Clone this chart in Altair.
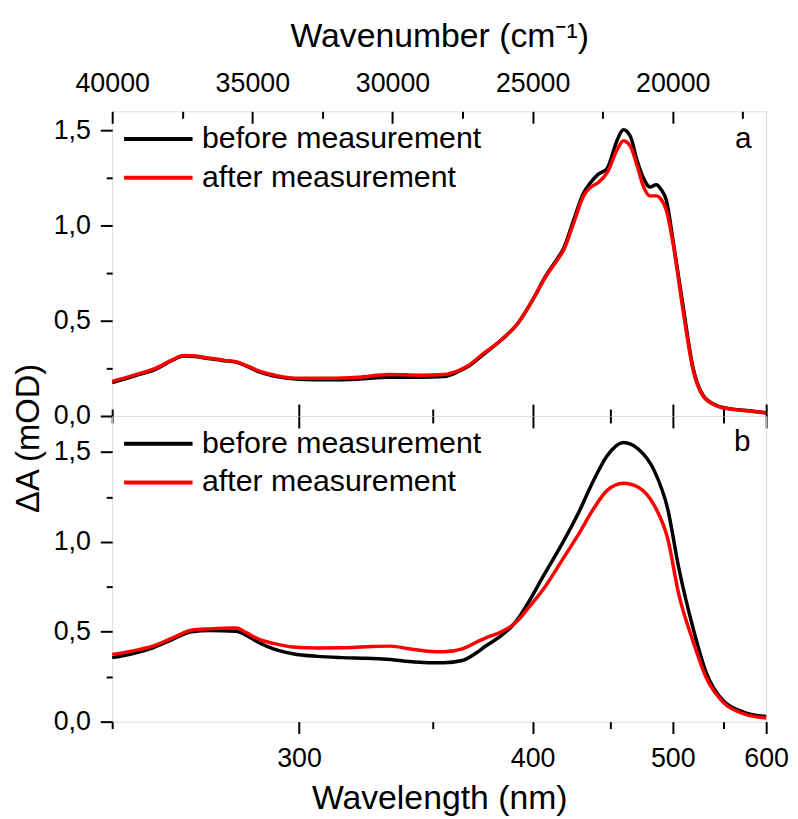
import altair as alt
import pandas as pd

# ---------------- data ----------------
series_names = ["before measurement", "after measurement"]
series_colors = ["#000000", "#ff0000"]

wl_a = [250, 255, 260, 264, 267, 270, 274, 278, 281, 284, 288, 293, 300, 310, 320, 332,
        345, 355, 362, 366, 374, 383, 392, 401, 407, 414.5, 418.5, 424.7, 431.4, 435.9,
        441.4, 447.6, 455, 459.5, 464.8, 470.2, 475, 480.4, 485.8, 489.7, 494.5, 500.3,
        509.3, 518.7, 528.4, 542, 560, 579, 600]
a_before = [0.176, 0.210, 0.245, 0.290, 0.315, 0.312, 0.300, 0.290, 0.283, 0.262, 0.230, 0.207,
            0.193, 0.190, 0.193, 0.203, 0.203, 0.207, 0.235, 0.258, 0.325, 0.400, 0.490, 0.625,
            0.727, 0.825, 0.880, 1.025, 1.172, 1.224, 1.270, 1.300, 1.451, 1.503, 1.469, 1.339,
            1.252, 1.203, 1.214, 1.190, 1.130, 0.920, 0.580, 0.255, 0.110, 0.056, 0.036, 0.027,
            0.017]
a_after = [0.182, 0.215, 0.250, 0.293, 0.318, 0.315, 0.303, 0.292, 0.285, 0.265, 0.234, 0.212,
           0.198, 0.198, 0.203, 0.218, 0.214, 0.218, 0.240, 0.262, 0.330, 0.400, 0.490, 0.625,
           0.722, 0.818, 0.870, 1.009, 1.156, 1.200, 1.226, 1.278, 1.400, 1.446, 1.417, 1.313,
           1.208, 1.156, 1.156, 1.139, 1.078, 0.905, 0.557, 0.245, 0.106, 0.054, 0.034, 0.026,
           0.016]

wl_b = [250, 255, 259.4, 264, 269, 273.8, 281, 284, 287.7, 292, 298, 306, 314.4, 323, 332.6,
        340, 348, 355, 363.5, 370, 374.2, 383, 388, 392, 396.8, 406.6, 417, 428.3, 438.1, 447.6,
        459.5, 471, 484, 495.5, 505.5, 518.7, 531.7, 549.5, 573, 600]
b_before = [0.356, 0.380, 0.411, 0.455, 0.500, 0.507, 0.503, 0.480, 0.439, 0.405, 0.378, 0.363,
            0.356, 0.352, 0.346, 0.334, 0.328, 0.328, 0.340, 0.380, 0.415, 0.480, 0.525, 0.575,
            0.650, 0.816, 0.980, 1.166, 1.341, 1.479, 1.553, 1.516, 1.396, 1.184, 0.853, 0.522,
            0.273, 0.116, 0.052, 0.028]
b_after = [0.374, 0.395, 0.420, 0.463, 0.508, 0.516, 0.521, 0.495, 0.457, 0.435, 0.415, 0.410,
           0.411, 0.416, 0.420, 0.405, 0.392, 0.389, 0.405, 0.440, 0.462, 0.500, 0.530, 0.565,
           0.623, 0.742, 0.890, 1.046, 1.184, 1.286, 1.326, 1.304, 1.203, 1.019, 0.706, 0.448,
           0.245, 0.107, 0.043, 0.020]

top_ticks_wn = [40000, 35000, 30000, 25000, 20000]
top_minor_wn = [37500, 32500, 27500, 22500, 17500]
bottom_ticks_nm = [300, 400, 500, 600]
bottom_minor_nm = [250, 350, 450, 550]
y_ticks = [0.0, 0.5, 1.0, 1.5]
y_minor = [0.25, 0.75, 1.25]
x_domain_nm = [250, 600]
ymax_a = 1.6
ymax_b = 1.7

# ---------------- helpers ----------------
FONT = "Liberation Sans"
W = 659
H_A, H_B = 307, 308


def long_df(wl, before, after):
    rows = []
    for w, b, a in zip(wl, before, after):
        rows.append({"wl": w, "wn": 1e7 / w, "series": series_names[0], "value": b})
        rows.append({"wl": w, "wn": 1e7 / w, "series": series_names[1], "value": a})
    return pd.DataFrame(rows)


def nm_to_wn(vals):
    return [1e7 / v for v in vals]


xs = alt.Scale(domain=[1e7 / x_domain_nm[0], 1e7 / x_domain_nm[1]], nice=False, zero=False)

TICK = dict(domain=False, grid=False, tickColor="black", tickWidth=2, title=None)


def tick_axis(orient, values, size):
    return alt.Axis(orient=orient, values=values, labels=False, ticks=True, tickSize=size, **TICK)


def inner_tick_axis(orient, values, size):
    return alt.Axis(orient=orient, values=values, labels=False, ticks=True, tickSize=size,
                    offset=-size, **TICK)


comma_expr = "replace(format(datum.value, '.1f'), '.', ',')"


def panel(df, ymax, height, letter, letter_x, letter_y, is_top):
    ys = alt.Scale(domain=[0, ymax], nice=False, zero=False)
    base = alt.Chart(df)
    color = alt.Color(
        "series:N",
        scale=alt.Scale(domain=series_names, range=series_colors),
        legend=alt.Legend(orient="none", legendX=12, legendY=11, title=None,
                          symbolType="M-2.3,0H2.3", symbolSize=900, symbolStrokeWidth=4,
                          symbolOffset=17.5,
                          labelFontSize=30.5, labelFont=FONT, labelColor="black",
                          labelOffset=27, rowPadding=6, padding=0, labelLimit=0,
                          direction="vertical"),
    )

    def axis_layer(xaxis, yaxis):
        return base.mark_line(opacity=0).encode(
            x=alt.X("wn:Q", scale=xs, axis=xaxis),
            y=alt.Y("value:Q", scale=ys, axis=yaxis),
        )

    lines = []
    for name in series_names:
        lines.append(
            base.transform_filter(alt.datum.series == name)
            .mark_line(strokeWidth=3.5, interpolate="monotone")
            .encode(
                x=alt.X("wn:Q", scale=xs, axis=None),
                y=alt.Y("value:Q", scale=ys, axis=None),
                color=color,
                order=alt.Order("wl:Q"),
            )
        )

    left_major = alt.Axis(
        orient="left", values=y_ticks, ticks=True, tickSize=12, labelPadding=10,
        labelFontSize=27, labelFont=FONT, labelColor="black", labelExpr=comma_expr,
        domain=False, grid=False, tickColor="black", tickWidth=2,
        title="ΔA (mOD)" if is_top else None,
        **(dict(titleX=-84, titleY=329, titleAngle=270, titleAlign="center",
                titleBaseline="middle", titleFontSize=33, titleFont=FONT,
                titleFontWeight="normal", titleColor="black") if is_top else {}),
    )
    layers = [
        axis_layer(None, left_major),
        axis_layer(None, tick_axis("left", y_minor, 6)),
    ]

    if is_top:
        top_labels = alt.Axis(
            orient="top", values=top_ticks_wn, ticks=False, domain=False, grid=False,
            labelFontSize=27, labelFont=FONT, labelColor="black", labelBaseline="alphabetic",
            labelPadding=20, format="d", labelFlush=False, labelOverlap=False,
            title="Wavenumber (cm⁻¹)", titleFontSize=34, titleFont=FONT,
            titleFontWeight="normal", titleColor="black", titleY=-65,
            titleBaseline="alphabetic",
        )
        layers += [
            axis_layer(top_labels, None),
            axis_layer(inner_tick_axis("top", top_ticks_wn, 12), None),
            axis_layer(inner_tick_axis("top", top_minor_wn, 7), None),
            axis_layer(tick_axis("bottom", nm_to_wn(bottom_ticks_nm), 12), None),
            axis_layer(tick_axis("bottom", nm_to_wn(bottom_minor_nm), 7), None),
        ]
    else:
        bottom_labels = alt.Axis(
            orient="bottom", values=nm_to_wn(bottom_ticks_nm), ticks=True, tickSize=12,
            tickColor="black", tickWidth=2, domain=False, grid=False,
            labelFontSize=27, labelFont=FONT, labelColor="black", labelBaseline="alphabetic",
            labelPadding=33, labelExpr="format(10000000 / datum.value, '.0f')",
            labelFlush=False, labelOverlap=False,
            title="Wavelength (nm)", titleFontSize=34, titleFont=FONT,
            titleFontWeight="normal", titleColor="black", titleY=88,
            titleBaseline="alphabetic",
        )
        layers += [
            axis_layer(bottom_labels, None),
            axis_layer(tick_axis("bottom", nm_to_wn(bottom_minor_nm), 7), None),
            axis_layer(tick_axis("top", nm_to_wn(bottom_ticks_nm), 12), None),
            axis_layer(tick_axis("top", nm_to_wn(bottom_minor_nm), 7), None),
        ]

    letter_layer = alt.Chart(alt.Data(values=[{"label": letter}])).mark_text(
        fontSize=30, font=FONT, color="black", align="center", baseline="alphabetic"
    ).encode(text="label:N", x=alt.value(letter_x), y=alt.value(letter_y))

    return (
        alt.layer(*layers, *lines, letter_layer)
        .resolve_axis(x="independent", y="independent")
        .properties(width=W, height=height)
    )


df_a = long_df(wl_a, a_before, a_after)
df_b = long_df(wl_b, b_before, b_after)

pa = panel(df_a, ymax_a, H_A, "a", W - 23, 37, True)
pb = panel(df_b, ymax_b, H_B, "b", W - 24, 35, False)

chart = (
    alt.vconcat(pa, pb, spacing=0, bounds="flush")
    .resolve_scale(y="independent", color="independent")
    .resolve_legend(color="independent")
    .properties(padding={"left": 4, "top": 8, "right": 0, "bottom": 0})
    .configure_view(stroke="black", strokeWidth=2)
    .configure(background="white")
)

chart.save("out.html", embed_options={"renderer": "svg", "actions": False})
